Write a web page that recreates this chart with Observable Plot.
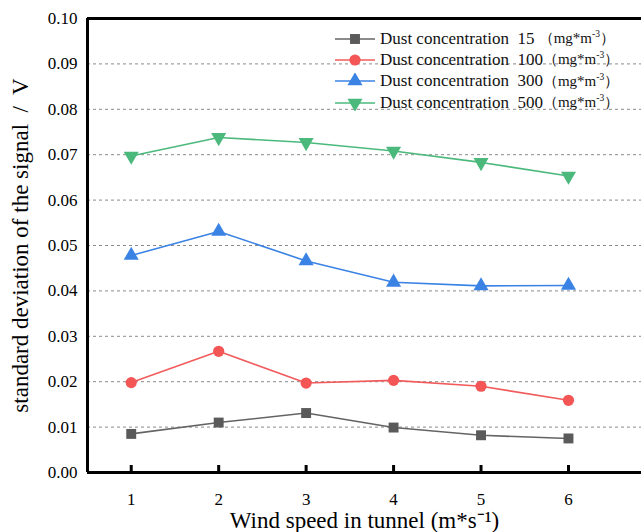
<!DOCTYPE html>
<html><head><meta charset="utf-8">
<script src="https://cdn.jsdelivr.net/npm/d3@7"></script>
<script src="https://cdn.jsdelivr.net/npm/@observablehq/plot@0.6"></script>
<style>
body{margin:0;background:#fff}
#wrap{position:relative;width:641px;height:532px;font-family:"Liberation Serif",serif;overflow:hidden}
#wrap svg, #wrap svg text{font-family:"Liberation Serif",serif !important}
.legend{position:absolute;left:333px;top:28px;font-size:17px;color:#111;font-family:"Liberation Serif",serif}
.row{display:flex;align-items:center;height:21.3px;white-space:pre}
.row svg{margin-right:3px}
.units{font-size:15px}
.units sup{font-size:9.5px}
</style></head><body><div id="wrap"></div>
<script>
const windSpeed = [1, 2, 3, 4, 5, 6];
const seriesNames = ["15", "100", "300", "500"];
const c15  = [0.0085, 0.0110, 0.0131, 0.0099, 0.0082, 0.0075];
const c100 = [0.0198, 0.0267, 0.0197, 0.0203, 0.0190, 0.0159];
const c300 = [0.0478, 0.0531, 0.0466, 0.0419, 0.0411, 0.0412];
const c500 = [0.0697, 0.0738, 0.0727, 0.0708, 0.0683, 0.0653];
const xTicks = [1, 2, 3, 4, 5, 6];
const yTicks = [0, 0.01, 0.02, 0.03, 0.04, 0.05, 0.06, 0.07, 0.08, 0.09, 0.10];
const gridTicks = [0.01, 0.02, 0.03, 0.04, 0.05, 0.06, 0.07, 0.08, 0.09];
const lineColors = ["#646464", "#f25b5b", "#3a83e4", "#4cb97c"];
const markColors = ["#5a5a5a", "#f45555", "#3a83e4", "#4cb97c"];

const triangleDown = {
  draw(ctx, size) {
    const y = -Math.sqrt(size / (Math.sqrt(3) * 3));
    ctx.moveTo(0, -2 * y);
    ctx.lineTo(-Math.sqrt(3) * y, y);
    ctx.lineTo(Math.sqrt(3) * y, y);
    ctx.closePath();
  }
};
const symbols = ["square", "circle", "triangle", triangleDown];

const allSeries = [c15, c100, c300, c500];
const data = allSeries.flatMap((vals, i) => vals.map((v, j) => ({x: windSpeed[j], y: v, s: seriesNames[i]})));

const serif = "'Liberation Serif', serif";
const chart = Plot.plot({
  width: 641, height: 532,
  marginLeft: 87, marginRight: 0, marginTop: 18, marginBottom: 60,
  style: {fontFamily: serif, color: "#000", background: "#fff"},
  x: {domain: [0.5, 6.835]},
  y: {domain: [0, 0.1]},
  color: {domain: seriesNames, range: lineColors},
  symbol: {domain: seriesNames, range: symbols},
  marks: [
    Plot.gridY(gridTicks, {stroke: "#8a8a8a", strokeOpacity: 1, strokeDasharray: "3,3", strokeWidth: 1}),
    Plot.line(data, {x: "x", y: "y", z: "s", stroke: "s", strokeWidth: 1.6}),
    Plot.dot(data, {x: "x", y: "y", symbol: "s", fill: d => markColors[seriesNames.indexOf(d.s)], r: 5.6, stroke: "none"}),
    Plot.ruleY([0, 0.1], {stroke: "#000", strokeWidth: 3}),
    Plot.ruleX([0.5], {stroke: "#000", strokeWidth: 3}),
    Plot.axisX(xTicks, {tickSize: -7, strokeWidth: 3, fontSize: 17, fontFamily: serif, tickPadding: 27, tickFormat: d => String(d),
      label: "Wind speed in tunnel (m*s\u207B\u00B9)", labelAnchor: "center", labelOffset: 55, labelArrow: "none"}),
    Plot.axisY(yTicks, {tickSize: 0, fontSize: 17, fontFamily: serif, tickPadding: 10, tickFormat: d => d.toFixed(2),
      label: "standard deviation of the signal  /  V", labelAnchor: "center", labelOffset: 76, labelArrow: "none"})
  ]
});
chart.querySelectorAll("[aria-label='x-axis label'] text, [aria-label='y-axis label'] text").forEach(t => t.style.fontSize = "23px");
const wrap = document.getElementById("wrap");
wrap.appendChild(chart);

// legend
const legend = document.createElement("div");
legend.className = "legend";
seriesNames.forEach((name, i) => {
  const row = document.createElement("div");
  row.className = "row";
  const s = d3.create("svg").attr("width", 44).attr("height", 16);
  s.append("line").attr("x1", 2).attr("x2", 42).attr("y1", 8).attr("y2", 8).attr("stroke", lineColors[i]).attr("stroke-width", 1.6);
  const sym = i === 3 ? triangleDown : [d3.symbolSquare, d3.symbolCircle, d3.symbolTriangle][i];
  s.append("path").attr("transform", "translate(22,8)").attr("d", d3.symbol(sym, 5.6 * 5.6 * Math.PI)()).attr("fill", markColors[i]);
  row.appendChild(s.node());
  const pad = name.length === 2 ? " " : "";
  row.insertAdjacentHTML("beforeend", `<span>Dust concentration  ${name}${pad}</span><span class="units">（mg*m<sup>-3</sup>）</span>`);
  legend.appendChild(row);
});
wrap.appendChild(legend);
</script>
</body></html>
